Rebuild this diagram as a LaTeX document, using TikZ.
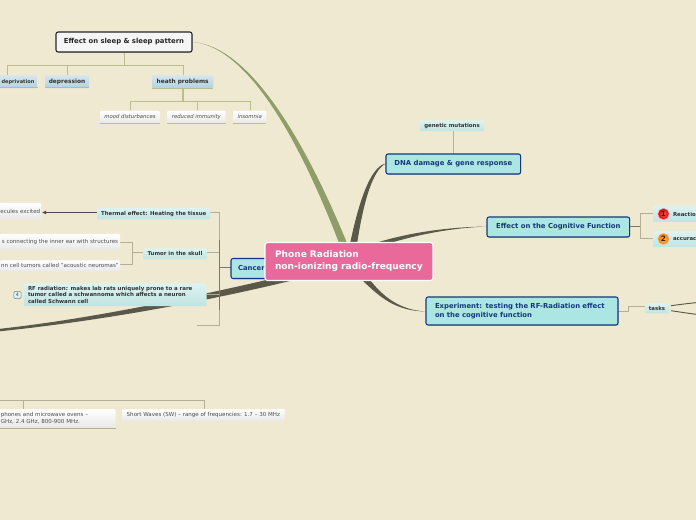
\documentclass[tikz,border=0pt]{standalone}
\usepackage{fontspec}
\setmainfont{DejaVu Sans}
\usetikzlibrary{shadows,arrows.meta}
\definecolor{bg}{HTML}{F0E9D2}
\definecolor{navy}{HTML}{14387F}
\definecolor{teal}{HTML}{ABE6E3}
\definecolor{olive}{HTML}{8F9E68}
\definecolor{darkline}{HTML}{5A5849}
\definecolor{treeline}{HTML}{B4AE94}
\definecolor{sleepline}{HTML}{B9BE8E}
\definecolor{pinkc}{HTML}{E96A9A}
\definecolor{D1}{HTML}{DDF3F1}
\definecolor{D2}{HTML}{BFE4E2}
\definecolor{B1}{HTML}{D5E6EE}
\definecolor{B2}{HTML}{B2D2E0}
\tikzset{
 every node/.style={inner sep=0pt,outer sep=0pt},
 mainbox/.style={draw=navy,line width=.8pt,rounded corners=1.6pt,fill=teal,text=navy,font=\fontsize{5.15}{6.2}\selectfont\bfseries,drop shadow={shadow xshift=.4pt,shadow yshift=-.6pt,opacity=.35}},
 sleepbox/.style={draw=black!85,line width=.8pt,rounded corners=1.6pt,fill=white!96!black,text=black!85,font=\fontsize{5.15}{6.2}\selectfont\bfseries,drop shadow={shadow xshift=.4pt,shadow yshift=-.6pt,opacity=.35}},
 centerbox/.style={draw=white,line width=.9pt,rounded corners=2pt,fill=pinkc,text=white,font=\fontsize{6.8}{9}\selectfont\bfseries},
 bluebox/.style={rounded corners=.8pt,top color=B1,bottom color=B2,text=black!80,font=\fontsize{4.4}{5.6}\selectfont\bfseries},
 tealbox/.style={rounded corners=.8pt,top color=D1,bottom color=D2,text=black!80,font=\fontsize{4.05}{5.2}\selectfont\bfseries},
 greybox/.style={rounded corners=.8pt,top color=white,bottom color=black!9,text=black!70,font=\fontsize{4.15}{5.6}\selectfont},
 itbox/.style={greybox,font=\fontsize{4}{5}\selectfont\itshape},
 numball/.style={circle,minimum size=8.5pt,font=\fontsize{5.5}{6}\selectfont\bfseries,text=black!85},
 tree/.style={treeline,line width=.75pt},
 stree/.style={sleepline,line width=.75pt},
 dtree/.style={darkline!80,line width=.75pt},
}
\begin{document}
\begin{tikzpicture}[x=.75pt,y=-.75pt]
\useasboundingbox (0,0) rectangle (696,520);
\clip (0,0) rectangle (696,520);
\fill[bg] (0,0) rectangle (696,520);
\coordinate (sleepE) at (193,42);
\coordinate (dnaW) at (386,163.5);
\coordinate (cogW) at (487,226.5);
\coordinate (expW) at (426,311.5);
% thick curves
\fill[olive] (sleepE) .. controls (255,48) and (309,165) .. (339,243) -- (347,243) .. controls (315,165) and (257,47) .. (sleepE) -- cycle;
\fill[darkline] (dnaW) .. controls (370,166) and (358,205) .. (350,244) -- (357,244) .. controls (363,205) and (372,170) .. (dnaW) -- cycle;
\fill[darkline] (cogW) .. controls (450,227) and (410,232) .. (372,244) -- (380,246) .. controls (415,235) and (450,228) .. (cogW) -- cycle;
\fill[darkline] (expW) .. controls (395,311) and (380,297) .. (363,281) -- (370,280) .. controls (382,295) and (398,310) .. (expW) -- cycle;
\fill[darkline] (-2,329) .. controls (90,319) and (190,298) .. (290,274.5) -- (290,281) .. controls (190,305) and (90,322) .. (-2,331.5) -- cycle;
% sleep tree
\draw[stree] (124,52) -- (124,66);
\draw[stree] (7,75) |- (183,66) -- (183,75);
\draw[stree] (67,66) -- (67,75);
\draw[stree,line width=1pt] (183,88) -- (183,102);
\draw[stree] (130,110) |- (250,102) -- (250,110);
\draw[stree] (197,102) -- (197,110);
% cancer tree
\draw[tree] (219.5,212.5) -- (219.5,325.5) -- (197,325.5);
\draw[tree] (210,212.5) -- (219.5,212.5);
\draw[tree] (207,253) -- (219.5,253);
\draw[tree] (207,295) -- (219.5,295);
\draw[dtree] (219.5,268) -- (231,268);
\draw[dtree] (219.5,240) -- (219.5,310);
\draw[tree] (143,253) -- (132.5,253);
\draw[tree] (120,243) -| (132.5,265) -- (120,265);
\draw[black!70,line width=.7pt,-{Latex[length=3pt,width=3pt]}] (97,212.5) -- (42,212.5);
\draw[tree] (0,400.5) -| (204.5,409);
\draw[tree] (23.5,400.5) -- (23.5,409);
% right
\draw[tree] (453,131) -- (453,154);
\draw[dtree] (630,226.5) -- (640.5,226.5);
\draw[tree] (653,214) -| (640.5,239) -- (653,239);
\draw[tree] (618,311.5) -- (628,311.5) -- (628,307) -- (645,307);
\draw[darkline,line width=.7pt] (671,305.7) .. controls (680,304.5) and (690,303.2) .. (697,302.6);
\draw[darkline,line width=.7pt] (671,310.7) .. controls (680,312) and (690,313.6) .. (697,314.4);
% nodes
\node[sleepbox,minimum width=102pt,minimum height=15pt,anchor=north west] (sleep) at (56,32) {Effect on sleep \& sleep pattern};
\node[bluebox,minimum width=28.5pt,minimum height=9.5pt,anchor=north west,font=\fontsize{3.8}{5}\selectfont\bfseries] (dep) at (-1,75.5) {deprivation};
\node[bluebox,minimum width=33pt,minimum height=9.5pt,anchor=north west] (depr) at (45,75.5) {depression};
\node[bluebox,minimum width=46pt,minimum height=9.5pt,anchor=north west] (heath) at (152,75.5) {heath problems};
\draw[stree] (0,88) -- (38,88) (45,88) -- (89,88) (152,88.5) -- (213,88.5);
\node[itbox,minimum width=45pt,minimum height=9pt,anchor=north west] (mood) at (100,111) {mood disturbances};
\node[itbox,minimum width=44pt,minimum height=9pt,anchor=north west] (immu) at (167,111) {reduced immunity};
\node[itbox,minimum width=25pt,minimum height=9pt,anchor=north west] (inso) at (233,111) {insomnia};
\draw[stree] (100,123.5) -- (160,123.5) (167,123.5) -- (226,123.5) (233,123.5) -- (266,123.5);
% DNA
\node[tealbox,minimum width=48pt,minimum height=8pt,anchor=north west] (gen) at (420,120.5) {genetic mutations};
\node[mainbox,minimum width=101pt,minimum height=15pt,anchor=north west] (dna) at (386,154) {DNA damage \& gene response};
\node[mainbox,minimum width=107pt,minimum height=15pt,anchor=north west] (cog) at (487,217) {Effect on the Cognitive Function};
\node[mainbox,minimum height=21pt,anchor=north west,align=left,text width=130.5pt,inner xsep=6.75pt] (exp) at (426,297) {Experiment: testing the RF-Radiation effect\\on the cognitive function};
\node[tealbox,minimum width=18pt,minimum height=7.5pt,anchor=north west] (tasks) at (645,303.5) {tasks};
\node[tealbox,minimum height=12pt,anchor=north west,align=left,text width=40pt] (rea) at (653,206) {\hspace{15pt}Reactio};
\node[tealbox,minimum height=11.5pt,anchor=north west,align=left,text width=40pt] (acc) at (653,231.5) {\hspace{15pt}accurac};
\node[numball,draw=red!40,line width=.4pt,inner color=red!65!white,outer color=red!85!black] (n1) at (663.5,214) {1};
\node[numball,draw=orange!50,line width=.4pt,inner color=orange!55!white,outer color=orange!90!red] (n2) at (663.5,239) {2};
% Cancer
\node[mainbox,minimum height=15pt,anchor=north west,align=left,text width=46pt,inner xsep=5.25pt] (can) at (231,258.5) {Cancer};
\node[tealbox,minimum width=85pt,minimum height=8.5pt,anchor=north west] (the) at (97,208) {Thermal effect: Heating the tissue};
\node[tealbox,minimum width=48pt,minimum height=8pt,anchor=north west] (tum) at (143,248.5) {Tumor in the skull};
\node[tealbox,minimum height=17pt,anchor=north west,align=left,text width=131pt,inner xsep=3pt,font=\fontsize{4.1}{4.8}\selectfont\bfseries] (rf) at (24,283.5) {RF radiation: makes lab rats uniquely prone to a rare\\tumor called a schwannoma which affects a neuron\\called Schwann cell};
\node[draw=teal!60!black,fill=D1,rounded corners=1pt,line width=.4pt,minimum size=5.5pt,font=\fontsize{3.6}{4}\selectfont,text=black!70] (four) at (17.5,295) {4};
\node[greybox,minimum width=31pt,minimum height=12pt,anchor=north east] (mol) at (41,203) {ecules excited\hspace{3.5pt}};
\node[greybox,minimum width=90pt,minimum height=12pt,anchor=north east] (co) at (120,234) {s connecting the inner ear with structures\hspace{3.5pt}};
\node[greybox,minimum width=90pt,minimum height=8pt,anchor=north east] (ac) at (120,260.5) {nn cell tumors called "acoustic neuromas"\hspace{3.5pt}};
\node[greybox,minimum height=14pt,anchor=north east,align=left,text width=85pt,inner xsep=1pt] (ph) at (115.5,409) {phones and microwave ovens –\\GHz, 2.4 GHz, 800-900 MHz.};
\draw[tree,line width=1pt] (0,428.3) -- (115.5,428.3);
\node[greybox,minimum width=122pt,minimum height=9pt,anchor=north west] (sw) at (122,409) {Short Waves (SW) – range of frequencies: 1.7 – 30 MHz};
% center
\node[centerbox,minimum height=28.5pt,anchor=north west,align=left,text width=111pt,inner xsep=7.5pt] (center) at (265,242.5) {Phone Radiation\\non-ionizing radio-frequency};
\end{tikzpicture}
\end{document}
